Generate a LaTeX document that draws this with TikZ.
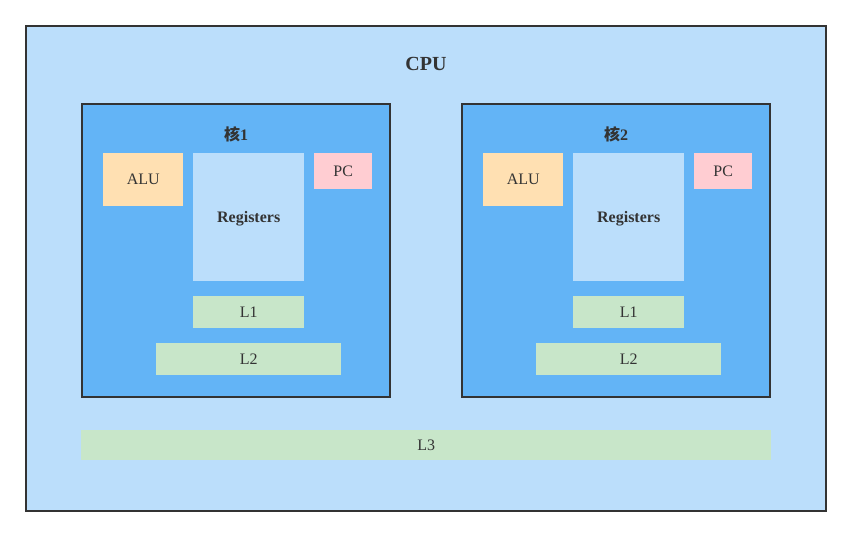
\documentclass[tikz,border=0pt]{standalone}
\usepackage{fontspec}
\setmainfont{Liberation Serif}
\newfontfamily\cjk{Noto Sans CJK SC}
\usetikzlibrary{positioning}
\definecolor{cpubg}{HTML}{BBDEFB}
\definecolor{corebg}{HTML}{63B4F6}
\definecolor{alubg}{HTML}{FFE0B2}
\definecolor{pcbg}{HTML}{FFCDD2}
\definecolor{cachebg}{HTML}{C8E6C9}
\definecolor{ink}{HTML}{333333}

\begin{document}
\begin{tikzpicture}[
    x=1pt, y=-1pt,
    frame/.style={draw=ink, line width=2pt, fill=#1},
    part/.style={fill=#1, text=ink, anchor=north west, inner sep=0pt, text depth=0pt, font=\fontsize{16}{18}\selectfont},
    title/.style={text=ink, font=\fontsize{#1}{#1}\selectfont\bfseries}
]
\useasboundingbox (0,0) rectangle (852,537);
\draw[frame=cpubg] (26,26) rectangle (826,511);
\node[title=20] (cpu) at (426,64) {CPU};
\foreach \k/\dx in {1/0, 2/380} {
  \begin{scope}[xshift=\dx pt]
    \draw[frame=corebg] (82,104) rectangle (390,397);
    \node[title=16] (core\k) at (236,134) {{\cjk\bfseries 核}\k};
    \node[part=alubg, minimum width=80pt, minimum height=53pt] (alu\k) at (103,153) {ALU};
    \node[part=cpubg, minimum width=111pt, minimum height=128pt, font=\fontsize{16}{18}\selectfont\bfseries] (reg\k) at (193,153) {Registers};
    \node[part=pcbg, minimum width=58pt, minimum height=36pt] (pc\k) at (314,153) {PC};
    \node[part=cachebg, minimum width=111pt, minimum height=32pt] (lone\k) at (193,296) {L1};
    \node[part=cachebg, minimum width=185pt, minimum height=32pt] (ltwo\k) at (156,343) {L2};
  \end{scope}
}
\node[part=cachebg, minimum width=690pt, minimum height=30pt] (lthree) at (81,430) {L3};
\end{tikzpicture}
\end{document}
